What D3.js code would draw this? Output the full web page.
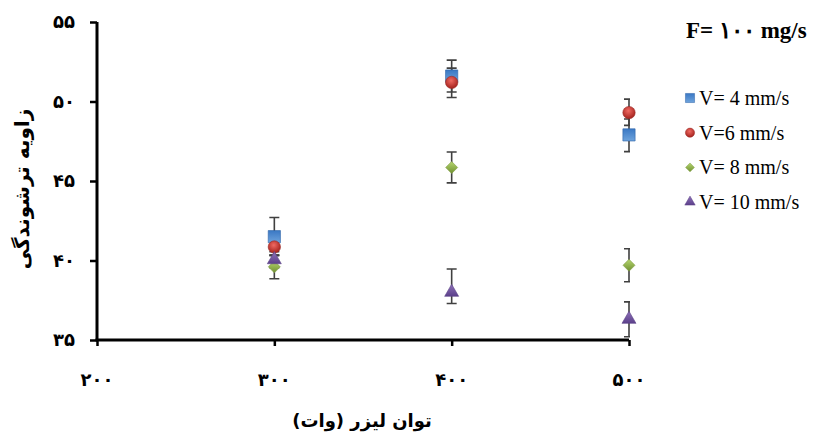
<!DOCTYPE html>
<html>
<head>
<meta charset="utf-8">
<script src="https://cdn.jsdelivr.net/npm/d3@7"></script>
<style>
  body { margin: 0; background: #fff; }
  svg { display: block; }
  .fa { font-family: "DejaVu Sans", sans-serif; font-weight: bold; }
  .en { font-family: "Liberation Serif", "Times New Roman", serif; }
</style>
</head>
<body>
<div id="chart"></div>
<script>
// laser power (W) and contact angle readings
const powers = [300, 400, 500];
const xTicks = [200, 300, 400, 500];
const yTicks = [35, 40, 45, 50, 55];
const seriesNames = ["V= 4 mm/s", "V=6 mm/s", "V= 8 mm/s", "V= 10 mm/s"];

const v4 = [41.5, 51.6, 47.9];
const v4Up = [1.2, 1.0, 1.0];
const v4Down = [1.2, 1.0, 1.05];

const v6 = [40.85, 51.2, 49.3];
const v6Up = [0.5, 0.9, 0.85];
const v6Down = [0.5, 0.95, 0.8];

const v8 = [39.6, 45.85, 39.7];
const v8Up = [0.75, 0.97, 1.04];
const v8Down = [0.75, 0.97, 1.04];

const v10 = [40.05, 38.0, 36.3];
const v10Up = [0.5, 1.47, 1.1];
const v10Down = [0.5, 0.7, 1.1];

const faDigits = n => String(n).replace(/\d/g, d => "۰۱۲۳۴۵۶۷۸۹"[+d]);

const width = 819, height = 437;
const margin = { top: 22, right: 190, bottom: 97, left: 97 };

const svg = d3.select("#chart").append("svg")
  .attr("width", width).attr("height", height);

const x = d3.scaleLinear().domain([200, 500]).range([margin.left, width - margin.right]);
const y = d3.scaleLinear().domain([35, 55]).range([height - margin.bottom, margin.top]);

const defs = svg.append("defs");
defs.append("clipPath").attr("id", "plot-clip")
  .append("rect")
  .attr("x", x(200)).attr("y", 0)
  .attr("width", x(500) - x(200) + 1).attr("height", height);

function linGrad(id, c1, c2) {
  const g = defs.append("linearGradient").attr("id", id)
    .attr("x1", 0).attr("y1", 0).attr("x2", 0).attr("y2", 1);
  g.append("stop").attr("offset", "0%").attr("stop-color", c1);
  g.append("stop").attr("offset", "100%").attr("stop-color", c2);
}
function radGrad(id, c1, c2) {
  const g = defs.append("radialGradient").attr("id", id)
    .attr("cx", "45%").attr("cy", "35%").attr("r", "65%");
  g.append("stop").attr("offset", "0%").attr("stop-color", c1);
  g.append("stop").attr("offset", "100%").attr("stop-color", c2);
}
linGrad("g-blue", "#3a78c4", "#6ea3dc");
radGrad("g-red", "#f06a62", "#a3211c");
linGrad("g-green", "#b6d66f", "#6f9030");
linGrad("g-purple", "#8e72b8", "#5b3f8a");

// wide diamond = square turned 45deg
const diamond = {
  draw(ctx, size) {
    const r = Math.sqrt(size / 2);
    ctx.moveTo(0, -r); ctx.lineTo(r, 0); ctx.lineTo(0, r); ctx.lineTo(-r, 0); ctx.closePath();
  }
};

const series = [
  { name: seriesNames[0], values: v4, up: v4Up, down: v4Down, shape: d3.symbolSquare, size: 150, fill: "url(#g-blue)", stroke: "#2d63a8" },
  { name: seriesNames[1], values: v6, up: v6Up, down: v6Down, shape: d3.symbolCircle, size: 120, fill: "url(#g-red)", stroke: "#9a2a26" },
  { name: seriesNames[2], values: v8, up: v8Up, down: v8Down, shape: diamond, size: 72, fill: "url(#g-green)", stroke: "#7f9c45" },
  { name: seriesNames[3], values: v10, up: v10Up, down: v10Down, shape: d3.symbolTriangle, size: 85, fill: "url(#g-purple)", stroke: "#5e4489" }
];

// axes
const yAxis = svg.append("g")
  .attr("transform", `translate(${x(200)},0)`)
  .call(d3.axisLeft(y).tickValues(yTicks).tickSize(7).tickFormat(""));
const xAxis = svg.append("g")
  .attr("transform", `translate(0,${y(35)})`)
  .call(d3.axisBottom(x).tickValues(xTicks).tickSize(6).tickFormat(""));
[xAxis, yAxis].forEach(a => {
  a.select(".domain").attr("stroke", "#000").attr("stroke-width", 3);
  a.selectAll(".tick line").attr("stroke", "#000").attr("stroke-width", 2.5);
});
xAxis.select(".domain").attr("d", `M${x(200) - 1.5},0H${x(500)}`);
yAxis.select(".domain").attr("d", `M0,${y(55)}V${y(35)}`);

svg.append("g").selectAll("text").data(yTicks).join("text")
  .attr("class", "fa")
  .attr("x", 75).attr("y", d => y(d)).attr("dy", "0.35em")
  .attr("text-anchor", "end").attr("font-size", 18)
  .text(d => faDigits(d));

svg.append("g").selectAll("text").data(xTicks).join("text")
  .attr("class", "fa")
  .attr("x", d => x(d)).attr("y", 386)
  .attr("text-anchor", "middle").attr("font-size", 18)
  .text(d => faDigits(d));

svg.append("text").attr("class", "fa")
  .attr("transform", `translate(29,${(y(35) + y(55)) / 2 + 8}) rotate(-90)`)
  .attr("text-anchor", "middle").attr("font-size", 20)
  .attr("direction", "rtl")
  .text("زاویه ترشوندگی");

svg.append("text").attr("class", "fa")
  .attr("x", 362).attr("y", 427)
  .attr("text-anchor", "middle").attr("font-size", 18)
  .attr("direction", "rtl")
  .text("توان لیزر (وات)");

// error bars
const errG = svg.append("g").attr("clip-path", "url(#plot-clip)")
  .attr("stroke", "#404040").attr("stroke-width", 1.6).attr("fill", "none");
series.forEach(s => {
  powers.forEach((p, i) => {
    const cx = x(p), top = y(s.values[i] + s.up[i]), bot = y(s.values[i] - s.down[i]);
    errG.append("path")
      .attr("d", `M${cx},${top}V${bot}M${cx - 5},${top}H${cx + 5}M${cx - 5},${bot}H${cx + 5}`);
  });
});

// markers
series.forEach(s => {
  svg.append("g").selectAll("path").data(s.values).join("path")
    .attr("transform", (d, i) => `translate(${x(powers[i])},${y(d)})`)
    .attr("d", d3.symbol().type(s.shape).size(s.size))
    .attr("fill", s.fill).attr("stroke", s.stroke).attr("stroke-width", 0.6);
});

// legend
svg.append("text").attr("class", "en")
  .attr("x", 686).attr("y", 38)
  .attr("font-size", 23).attr("font-weight", "bold")
  .text("F= ۱۰۰ mg/s");

const legend = svg.append("g");
series.forEach((s, i) => {
  const ly = 98 + i * 34.7;
  legend.append("path")
    .attr("transform", `translate(690,${ly})`)
    .attr("d", d3.symbol().type(s.shape).size(s.size * 0.55))
    .attr("fill", s.fill).attr("stroke", s.stroke).attr("stroke-width", 0.5);
  legend.append("text").attr("class", "en")
    .attr("x", 699).attr("y", ly).attr("dy", "0.35em")
    .attr("font-size", 20)
    .text(s.name);
});
</script>
</body>
</html>
